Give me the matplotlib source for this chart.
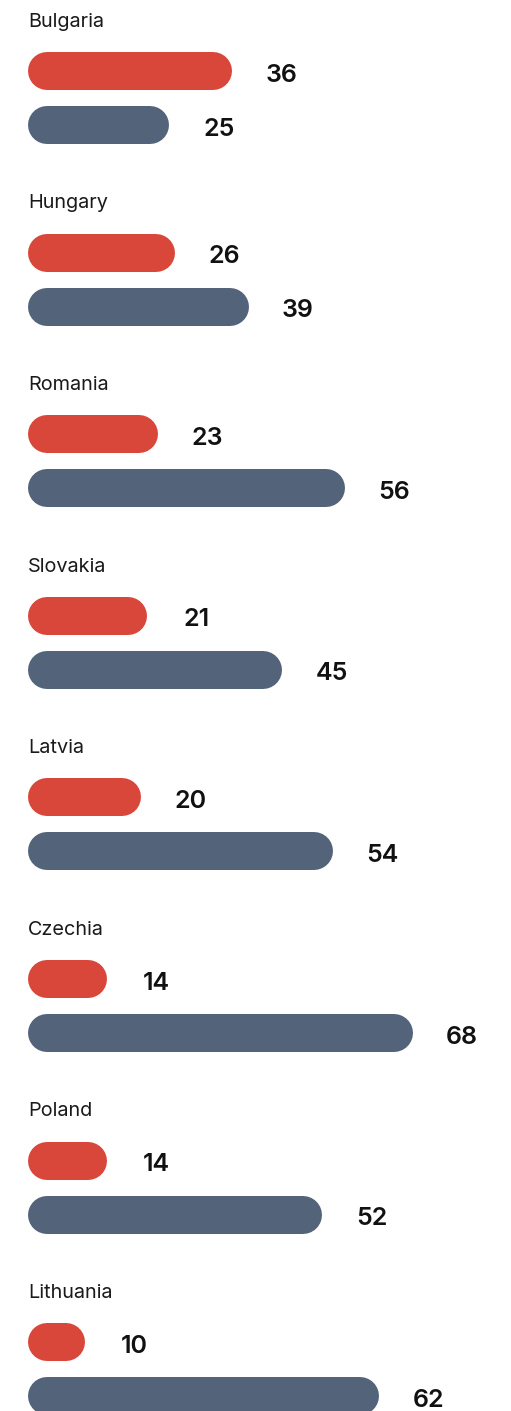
import matplotlib
matplotlib.use("Agg")
import matplotlib.pyplot as plt

countries = ["Bulgaria", "Hungary", "Romania", "Slovakia", "Latvia", "Czechia", "Poland", "Lithuania"]
red_values = [36, 26, 23, 21, 20, 14, 14, 10]
blue_values = [25, 39, 56, 45, 54, 68, 52, 62]

RED = "#D9473A"
BLUE = "#52637A"

W, H, DPI = 511, 1411, 100
plt.rcParams["font.family"] = ["Inter", "DejaVu Sans"]

fig = plt.figure(figsize=(W / DPI, H / DPI), dpi=DPI)
ax = fig.add_axes([0, 0, 1, 1])

# horizontal scale: pixels per unit, bars start at x0 pixels
px_per_unit = 5.655
x0 = 28
ax.set_xlim(-x0 / px_per_unit, (W - x0) / px_per_unit)
ax.set_ylim(H, 0)
ax.axis("off")

bar_px = 38
lw_pt = bar_px * 72 / DPI
r = bar_px / 2 / px_per_unit  # cap radius in data units
pt = 72 / DPI  # points per pixel

group_step = 181.6
label_base = 26.7
red_off = 71
blue_off = 125

for i, (name, rv, bv) in enumerate(zip(countries, red_values, blue_values)):
    top = i * group_step
    ax.text(0, top + label_base, name, fontsize=14.3, color="#1a1a1a",
            ha="left", va="baseline")
    for val, off, col in ((rv, red_off, RED), (bv, blue_off, BLUE)):
        y = top + off
        ax.plot([r, val - r], [y, y], color=col, lw=lw_pt,
                solid_capstyle="round", zorder=2)
        ax.annotate(str(val), xy=(val, y), xytext=(49.5 * pt, -10.6 * pt),
                    textcoords="offset points", fontsize=18,
                    fontweight="semibold", color="#111111",
                    ha="center", va="baseline")

fig.savefig("out.png", dpi=DPI, facecolor="white")
